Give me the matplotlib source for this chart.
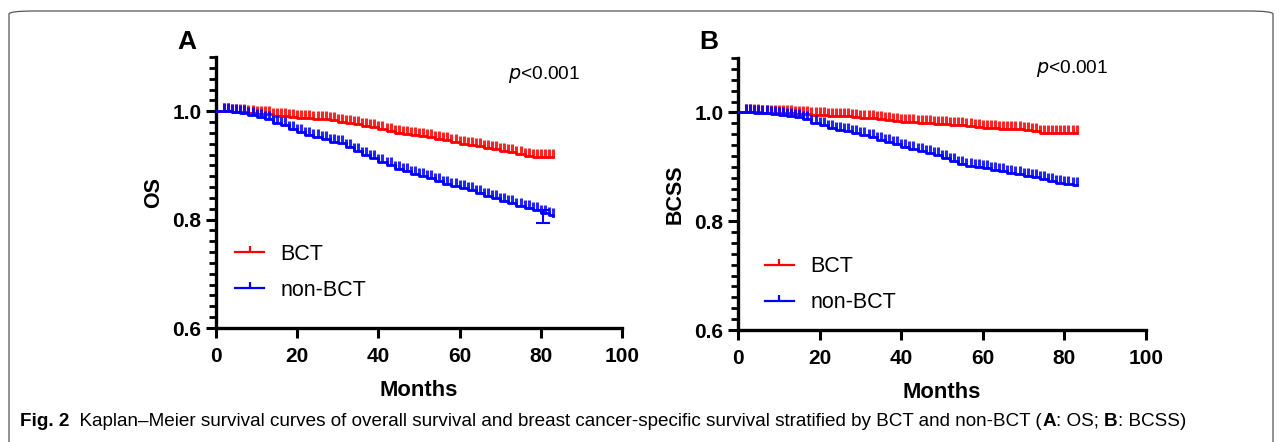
import numpy as np
import matplotlib
matplotlib.use("Agg")
import matplotlib.pyplot as plt
from matplotlib.path import Path
from matplotlib.lines import Line2D
from matplotlib.patches import FancyBboxPatch

# ---------------- data ----------------
months = [0, 2, 4, 6, 8, 10, 12, 14, 16, 18, 20, 22, 24, 26, 28, 30, 32, 34, 36, 38, 40,
          42, 44, 46, 48, 50, 52, 54, 56, 58, 60, 62, 64, 66, 68, 70, 72, 74, 76, 78, 80, 82, 83]

os_bct = [1.0, 1.0, 0.999, 0.998, 0.997, 0.995, 0.994, 0.992, 0.991, 0.990, 0.988, 0.987,
          0.986, 0.985, 0.983, 0.980, 0.978, 0.976, 0.973, 0.970, 0.967, 0.964, 0.960,
          0.958, 0.957, 0.955, 0.952, 0.949, 0.946, 0.943, 0.940, 0.937, 0.935, 0.933,
          0.930, 0.927, 0.924, 0.921, 0.918, 0.915, 0.915, 0.915, 0.915]
os_non = [1.0, 1.0, 0.999, 0.996, 0.993, 0.989, 0.985, 0.979, 0.974, 0.968, 0.962, 0.957,
          0.952, 0.948, 0.944, 0.941, 0.934, 0.926, 0.920, 0.913, 0.906, 0.900, 0.894,
          0.889, 0.885, 0.881, 0.877, 0.872, 0.866, 0.862, 0.859, 0.854, 0.849, 0.844,
          0.839, 0.834, 0.830, 0.826, 0.822, 0.818, 0.813, 0.808, 0.807]
bcss_bct = [1.0, 1.0, 1.0, 0.999, 0.999, 0.998, 0.998, 0.997, 0.997, 0.996, 0.995, 0.994,
            0.993, 0.993, 0.992, 0.990, 0.989, 0.988, 0.986, 0.985, 0.983, 0.982, 0.981,
            0.980, 0.979, 0.978, 0.977, 0.976, 0.975, 0.974, 0.972, 0.971, 0.970, 0.970,
            0.969, 0.968, 0.965, 0.962, 0.962, 0.962, 0.962, 0.962, 0.962]
bcss_non = [1.0, 1.0, 0.999, 0.998, 0.997, 0.996, 0.994, 0.992, 0.987, 0.981, 0.977, 0.972,
            0.968, 0.965, 0.962, 0.959, 0.955, 0.950, 0.946, 0.942, 0.937, 0.933, 0.929,
            0.925, 0.921, 0.917, 0.911, 0.905, 0.902, 0.900, 0.897, 0.895, 0.892, 0.889,
            0.886, 0.884, 0.881, 0.877, 0.874, 0.871, 0.868, 0.867, 0.867]

censor_months = list(range(2, 84))
err_month = 80.6
err_low, err_high = 0.793, 0.818

groups = ["BCT", "non-BCT"]
colors = ["#FF0000", "#0000FF"]
panel_letters = ["A", "B"]
ylabels = ["OS", "BCSS"]
xticks = [0, 20, 40, 60, 80, 100]
yticks = [0.6, 0.8, 1.0]
ytick_labels = ["0.6", "0.8", "1.0"]
p_text = "<0.001"
caption_bold = "Fig. 2"
caption_rest = ("  Kaplan\u2013Meier survival curves of overall survival and breast cancer-specific "
                "survival stratified by BCT and non-BCT (")

# ---------------- drawing ----------------
plt.rcParams["font.family"] = ["Liberation Sans", "DejaVu Sans"]
W, H = 1282, 442
fig = plt.figure(figsize=(W / 100, H / 100), dpi=100)

# rounded border
border = FancyBboxPatch((9 / W, -0.2), (1273 - 9) / W, (H - 11) / H + 0.2,
                        boxstyle="round,pad=0,rounding_size=0.02",
                        transform=fig.transFigure, fill=False, edgecolor="#555555",
                        linewidth=0.9, mutation_aspect=H / W)
fig.patches.append(border)

tick_marker = Path([[0, 0], [0, 1]])


def step_value(t, xs, ys):
    idx = np.searchsorted(xs, t, side="right") - 1
    return np.asarray(ys)[idx]


def draw_panel(rect, series, letter, ylabel, ptext_pos, legend_pos, letter_pos, errbar=False):
    ax = fig.add_axes(rect)
    for ys, c in zip(series, colors):
        ax.step(months, ys, where="post", color=c, lw=2.0, zorder=3)
        cv = step_value(censor_months, months, ys)
        ax.plot(censor_months, cv, ls="none", marker=tick_marker, ms=11,
                mew=2.2, color=c, alpha=0.85, zorder=3)
    if errbar:
        mid = (err_low + err_high) / 2
        ax.errorbar([err_month], [mid], yerr=[[mid - err_low], [err_high - mid]],
                    color=colors[1], capsize=5, capthick=1.5, elinewidth=1.5, zorder=4)
    ax.set_xlim(0, 100)
    ax.set_ylim(0.6, 1.1)
    ax.set_xticks(xticks)
    ax.set_yticks(yticks)
    ax.set_yticklabels(ytick_labels)
    ax.set_yticks(np.round(np.arange(0.62, 1.101, 0.02), 2), minor=True)
    for s in ["top", "right"]:
        ax.spines[s].set_visible(False)
    for s in ["left", "bottom"]:
        ax.spines[s].set_linewidth(2.4)
    ax.tick_params(axis="both", which="major", length=7.5, width=2.2, labelsize=15)
    ax.tick_params(axis="x", which="major", pad=6)
    ax.tick_params(axis="y", which="major", pad=3)
    ax.tick_params(axis="y", which="minor", length=5, width=2.0)
    for lab in ax.get_xticklabels() + ax.get_yticklabels():
        lab.set_fontweight("bold")
    ax.set_xlabel("Months", fontsize=15.8, fontweight="bold", labelpad=10)
    ax.set_ylabel(ylabel, fontsize=15.5, fontweight="bold", labelpad=6)
    ax.text(letter_pos[0], letter_pos[1], letter, transform=ax.transAxes, fontsize=19,
            fontweight="bold", ha="left", va="center")
    ax.text(ptext_pos[0], ptext_pos[1], r"$\it{p}$" + p_text, transform=ax.transAxes,
            fontsize=13.8, ha="left", va="center")
    handles = [Line2D([0], [0], color=c, lw=1.6, marker=tick_marker, ms=8, mew=1.6)
               for c in colors]
    ax.legend(handles, groups, loc="center left", bbox_to_anchor=legend_pos, frameon=False,
              fontsize=15.5, handlelength=1.35, handletextpad=0.75, labelspacing=0.7,
              borderaxespad=0, borderpad=0)
    return ax


ax1 = draw_panel([216 / W, 1 - 328 / H, (622 - 216) / W, (328 - 57) / H],
                 [os_bct, os_non], panel_letters[0], ylabels[0], (0.72, 0.934),
                 (0.047, 0.205), (-0.095, 1.055), errbar=True)
ax2 = draw_panel([738 / W, 1 - 330 / H, (1146 - 738) / W, (330 - 58) / H],
                 [bcss_bct, bcss_non], panel_letters[1], ylabels[1], (0.73, 0.96),
                 (0.066, 0.166), (-0.094, 1.06))

# caption
cap_y = 1 - 421 / H
cap_fs = 13.6
t1 = fig.text(20 / W, cap_y, caption_bold, fontsize=cap_fs, fontweight="bold", va="center")
fig.canvas.draw()
r = fig.canvas.get_renderer()
x = t1.get_window_extent(r).x1
parts = [(caption_rest, "normal"), ("A", "bold"), (": OS; ", "normal"), ("B", "bold"),
         (": BCSS)", "normal")]
for txt, w in parts:
    t = fig.text(x / W, cap_y, txt, fontsize=cap_fs, fontweight=w, va="center")
    fig.canvas.draw()
    x = t.get_window_extent(r).x1

fig.savefig("out.png", dpi=100)
